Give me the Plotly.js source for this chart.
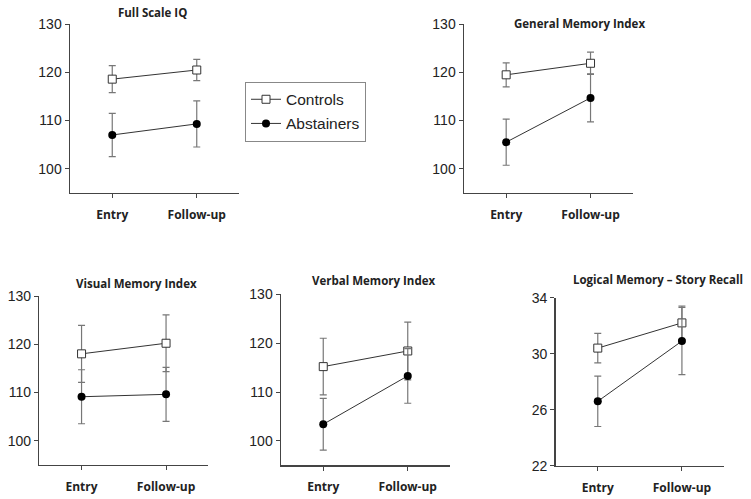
<!DOCTYPE html>
<html>
<head>
<meta charset="utf-8">
<script src="https://cdn.plot.ly/plotly-3.0.1.min.js"></script>
<style>html,body{margin:0;padding:0;background:#fff;}#chart{width:751px;height:499px;}</style>
</head>
<body>
<div id="chart"></div>
<script>
// ---- data ----
const timepoints = ['Entry', 'Follow-up'];
const panelTitles = ['Full Scale IQ', 'General Memory Index', 'Visual Memory Index', 'Verbal Memory Index', 'Logical Memory \u2013 Story Recall'];
const seriesNames = ['Controls', 'Abstainers'];

const controlsFSIQ = [118.6, 120.5];
const controlsFSIQErr = [2.8, 2.2];
const abstainersFSIQ = [107.0, 109.3];
const abstainersFSIQErr = [4.5, 4.8];

const controlsGMI = [119.5, 121.9];
const controlsGMIErr = [2.5, 2.3];
const abstainersGMI = [105.5, 114.7];
const abstainersGMIErr = [4.8, 5.0];

const controlsVisMI = [118.0, 120.2];
const controlsVisMIErr = [5.9, 5.9];
const abstainersVisMI = [109.1, 109.6];
const abstainersVisMIErr = [5.6, 5.6];

const controlsVerMI = [115.2, 118.4];
const controlsVerMIErr = [5.8, 5.9];
const abstainersVerMI = [103.4, 113.3];
const abstainersVerMIErr = [5.3, 5.6];

const controlsLM = [30.4, 32.2];
const controlsLMErr = [1.05, 1.2];
const abstainersLM = [26.6, 30.9];
const abstainersLMErr = [1.8, 2.4];

const iqTicks = [100, 110, 120, 130];
const lmTicks = [22, 26, 30, 34];

// ---- build ----
const controlsAll = [[controlsFSIQ, controlsFSIQErr], [controlsGMI, controlsGMIErr], [controlsVisMI, controlsVisMIErr], [controlsVerMI, controlsVerMIErr], [controlsLM, controlsLMErr]];
const abstainersAll = [[abstainersFSIQ, abstainersFSIQErr], [abstainersGMI, abstainersGMIErr], [abstainersVisMI, abstainersVisMIErr], [abstainersVerMI, abstainersVerMIErr], [abstainersLM, abstainersLMErr]];

const W = 751, H = 499;
// pixel boxes [x0, x1, yTop, yBottom]
const boxes = [
  [70, 239, 24.3, 192.7],
  [464, 632.7, 24.3, 192.7],
  [39.3, 208.3, 296, 464.7],
  [281, 450, 294.3, 465.3],
  [555.7, 724, 297.7, 465.7]
];
const titlePos = [[152.5, 12], [579.5, 23.3], [136.3, 283.3], [373.3, 280], [657.7, 279]];
const yRanges = [[95, 130], [95, 130], [95, 130], [95, 130], [22, 34]];
const yTicks = [iqTicks, iqTicks, iqTicks, iqTicks, lmTicks];

const traces = [];
const layout = {
  width: W, height: H,
  margin: {l: 0, r: 0, t: 0, b: 0},
  paper_bgcolor: '#fff', plot_bgcolor: '#fff',
  showlegend: true,
  legend: {
    x: 245 / W, y: 1 - 81.7 / H, xanchor: 'left', yanchor: 'top',
    bordercolor: '#888', borderwidth: 1, bgcolor: '#fff',
    font: {family: 'Liberation Sans, Arial, sans-serif', size: 15.5, color: '#222'},
    traceorder: 'grouped',
    tracegroupgap: 1,
    itemwidth: 30
  },
  annotations: []
};

for (let i = 0; i < 5; i++) {
  const sfx = i === 0 ? '' : String(i + 1);
  const b = boxes[i];
  const series = [controlsAll[i], abstainersAll[i]];
  series.forEach((s, k) => {
    traces.push({
      type: 'scatter', mode: 'lines+markers',
      x: timepoints, y: s[0],
      name: seriesNames[k],
      legendgroup: seriesNames[k],
      showlegend: i === 0,
      xaxis: 'x' + sfx, yaxis: 'y' + sfx,
      line: {color: '#333', width: 1},
      marker: k === 0
        ? {symbol: 'square', size: 8, color: '#fff', line: {color: '#333', width: 1}}
        : {symbol: 'circle', size: 8, color: '#000', line: {color: '#000', width: 0}},
      error_y: {type: 'data', array: s[1], visible: true, color: '#777', thickness: 1.2, width: 3.5}
    });
  });
  layout['xaxis' + sfx] = {
    domain: [b[0] / W, b[1] / W],
    anchor: 'y' + sfx,
    type: 'category',
    range: [-0.5, 1.5],
    showline: true, linecolor: '#444', linewidth: 1.5,
    showgrid: false, zeroline: false,
    ticks: 'outside', ticklen: 4, tickcolor: '#444', tickwidth: 1,
    ticklabelstandoff: 6,
    tickfont: {family: 'Open Sans, sans-serif', size: 12, weight: 'bold', color: '#222'},
    fixedrange: true
  };
  layout['yaxis' + sfx] = {
    domain: [1 - b[3] / H, 1 - b[2] / H],
    anchor: 'x' + sfx,
    range: yRanges[i],
    tickvals: yTicks[i],
    showline: true, linecolor: '#444', linewidth: 1.5,
    showgrid: false, zeroline: false,
    ticks: 'outside', ticklen: 4, tickcolor: '#444', tickwidth: 1,
    tickfont: {family: 'Liberation Sans, Arial, sans-serif', size: 14, color: '#222'},
    fixedrange: true
  };
  layout.annotations.push({
    text: panelTitles[i], showarrow: false,
    xref: 'paper', yref: 'paper',
    x: titlePos[i][0] / W, y: 1 - titlePos[i][1] / H,
    xanchor: 'center', yanchor: 'middle',
    font: {family: 'Open Sans, sans-serif', size: 11.5, weight: 'bold', color: '#222'}
  });
}

Plotly.newPlot('chart', traces, layout, {displayModeBar: false, staticPlot: true});
</script>
</body>
</html>
